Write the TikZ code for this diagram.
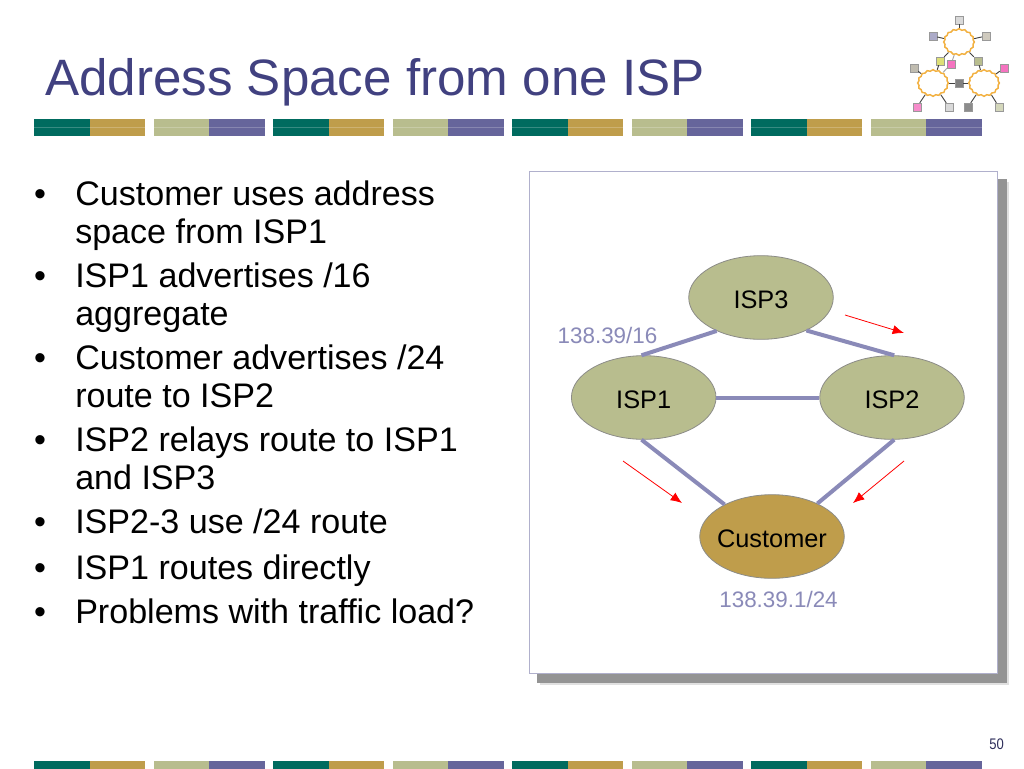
\documentclass[tikz,border=0pt]{standalone}
\usepackage{fontspec}
\setmainfont{Liberation Sans}
\usetikzlibrary{shapes.geometric,shapes.symbols,arrows.meta}
\definecolor{teal1}{HTML}{006B5F}
\definecolor{gold1}{HTML}{BF9D4B}
\definecolor{sage1}{HTML}{B8BD8E}
\definecolor{purp1}{HTML}{66659B}
\definecolor{titlec}{HTML}{414180}
\definecolor{linkc}{HTML}{8A8AB8}
\definecolor{framec}{HTML}{B0B0CC}
\definecolor{edgec}{HTML}{8C8C88}
\definecolor{cloudc}{HTML}{F2B040}
\tikzset{
  x=0.75pt,y=-0.75pt,
  site/.style={ellipse,draw=edgec,line width=0.6pt,minimum width=108bp,minimum height=62.5bp,inner sep=0pt,font=\fontsize{19}{22}\selectfont,text=black},
  isp/.style={site,fill=sage1},
  cust/.style={site,fill=gold1},
  link/.style={draw=linkc,line width=3pt},
  flow/.style={draw=red,line width=0.6pt,-{Latex[length=8.5pt,width=7pt]}},
  addr/.style={font=\fontsize{16.8}{20}\selectfont,text=linkc,inner sep=0pt},
  item/.style={anchor=base west,inner sep=0pt,font=\fontsize{25.55}{28.5}\selectfont,text=black},
  dotb/.style={anchor=base,inner sep=0pt,font=\fontsize{25.55}{28.5}\selectfont,text=black},
  bar/.style={inner sep=0pt,minimum width=41.6pt,minimum height=12.8pt,anchor=west},
  cl/.style={cloud,cloud puffs=16,cloud puff arc=120,aspect=1.15,draw=cloudc,fill=white,line width=1.1pt,minimum width=23pt,minimum height=20pt,inner sep=0pt},
  lk/.style={draw=black!75,line width=0.7pt},
  lklight/.style={draw=black!35,line width=0.7pt},
  sq/.style={draw=black!40,line width=0.3pt,minimum size=6pt,inner sep=0pt},
}
\newcommand{\sitetext}[1]{\raisebox{-8.3pt}[0pt][0pt]{\makebox[0pt]{#1}}}
\newcommand{\barset}[2]{%
  \node[bar,fill=teal1] (a#1) at (#2,127.5) {};
  \node[bar,fill=gold1] (b#1) at (#2+55.5,127.5) {};
  \node[bar,fill=sage1] (c#1) at (#2+119.5,127.5) {};
  \node[bar,fill=purp1] (d#1) at (#2+175,127.5) {};
  \fill[white,opacity=0.22] (#2,127) rectangle (#2+231,128);
  \node[bar,fill=teal1,minimum height=6pt] (e#1) at (#2,764.5) {};
  \node[bar,fill=gold1,minimum height=6pt] (f#1) at (#2+55.5,764.5) {};
  \node[bar,fill=sage1,minimum height=6pt] (g#1) at (#2+119.5,764.5) {};
  \node[bar,fill=purp1,minimum height=6pt] (h#1) at (#2+175,764.5) {};
}
\begin{document}
\begin{tikzpicture}
\useasboundingbox (0,0) rectangle (1024,768);
\fill[white] (0,0) rectangle (1024,768);
% title
\node[anchor=base west,inner sep=0pt,font=\fontsize{38.35}{44}\selectfont,text=titlec] (title) at (45,95) {Address Space from one ISP};
% bars
\barset{1}{34}\barset{2}{273}\barset{3}{512}\barset{4}{751}
% body
\foreach \n/\y in {1/205,2/287,3/369,4/451,5/533,6/579,7/623}
  \node[dotb] (dot\n) at (40,\y) {•};
\node[item] (t1a) at (75,205) {Customer uses address};
\node[item] (t1b) at (75,243) {space from ISP1};
\node[item] (t2a) at (75,287) {ISP1 advertises /16};
\node[item] (t2b) at (75,325) {aggregate};
\node[item] (t3a) at (75,369) {Customer advertises /24};
\node[item] (t3b) at (75,407) {route to ISP2};
\node[item] (t4a) at (75,451) {ISP2 relays route to ISP1};
\node[item] (t4b) at (75,489) {and ISP3};
\node[item] (t5) at (75,533) {ISP2-3 use /24 route};
\node[item] (t6) at (75,579) {ISP1 routes directly};
\node[item] (t7) at (75,623) {Problems with traffic load?};
% frame
\fill[black!12] (540,182) rectangle (1008.5,684.5);
\fill[black!42] (537,179) rectangle (1006.5,682.5);
\node[draw=framec,fill=white,line width=0.8pt,minimum width=351.5pt,minimum height=377pt,inner sep=0pt] (frame) at (763.5,422.5) {};
% network
\node[isp] (isp3) at (761,297.5) {\sitetext{ISP3}};
\node[isp] (isp1) at (643.7,397.5) {\sitetext{ISP1}};
\node[isp] (isp2) at (892,397.5) {\sitetext{ISP2}};
\node[cust] (cu) at (772,536.5) {\sitetext{Customer}};
\draw[link] (isp1.93) -- (isp3.217);
\draw[link] (isp2.87) -- (isp3.-36);
\draw[link] (isp1.east) -- (isp2.west);
\draw[link] (isp1.-93) -- (cu.146);
\draw[link] (isp2.-87) -- (cu.36);
\node[addr] (l1) at (607.5,335) {138.39/16};
\node[addr] (l2) at (778.5,599.5) {138.39.1/24};
\coordinate (r1a) at (845,315);\coordinate (r1b) at (904,333);
\coordinate (r2a) at (623,461);\coordinate (r2b) at (682,503);
\coordinate (r3a) at (904,461);\coordinate (r3b) at (853,503);
\draw[flow] (r1a) -- (r1b);
\draw[flow] (r2a) -- (r2b);
\draw[flow] (r3a) -- (r3b);
% logo
\node[cl] (c1) at (959,42) {};
\node[cl] (c2) at (933,83) {};
\node[cl] (c3) at (984,83) {};
\node[sq,fill=black!15] (s1) at (959,20) {};
\node[sq,fill=purp1!55] (s2) at (933,36) {};
\node[sq,fill=gold1!50!black!30] (s3) at (986,36) {};
\node[sq,fill=sage1!60!yellow!80] (s4) at (940,61) {};
\node[sq,fill=magenta!55] (s5) at (951,64) {};
\node[sq,fill=sage1] (s6) at (978,61) {};
\node[sq,fill=gold1!40!black!35] (s7) at (914,68) {};
\node[sq,fill=magenta!55] (s8) at (1004,68) {};
\node[sq,fill=black!50] (s9) at (959,83) {};
\node[sq,fill=magenta!45] (s10) at (917,107) {};
\node[sq,fill=black!15] (s11) at (949,107) {};
\node[sq,fill=black!45] (s12) at (968,107) {};
\node[sq,fill=sage1!60] (s13) at (999,107) {};
\draw[lk] (s1) -- (c1);\draw[lk] (s2) -- (c1);\draw[lk] (s3) -- (c1);
\draw[lk] (s4) -- (c1);\draw[lk] (s4) -- (c2);
\draw[lklight] (s5) -- (c1);\draw[lklight] (s5) -- (c2);
\draw[lk] (s6) -- (c1);\draw[lk] (s6) -- (c3);
\draw[lk] (s7) -- (c2);\draw[lk] (s8) -- (c3);
\draw[lk] (s9) -- (c2);\draw[lk] (s9) -- (c3);
\draw[lk] (s10) -- (c2);\draw[lk] (s11) -- (c2);
\draw[lk] (s12) -- (c3);\draw[lk] (s13) -- (c3);
% page number
\node[font=\fontsize{11.5}{13}\selectfont,text=titlec!70!black,inner sep=0pt,xscale=0.85] (pg) at (996.7,744.3) {50};
\end{tikzpicture}
\end{document}
